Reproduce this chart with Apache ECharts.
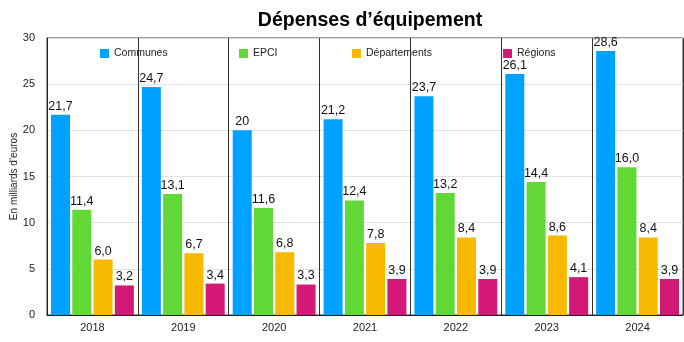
<!DOCTYPE html>
<html>
<head>
<meta charset="utf-8">
<script src="https://cdn.jsdelivr.net/npm/echarts@6/dist/echarts.min.js"></script>
<style>
  html, body { margin: 0; padding: 0; background: #fff; }
  #chart { width: 684px; height: 342px; }
</style>
</head>
<body>
<div id="chart"></div>
<script>
// Dépenses d'équipement par niveau de collectivité (milliards d'euros)
const years = ['2018', '2019', '2020', '2021', '2022', '2023', '2024'];
const communes     = ['21,7', '24,7', '20',   '21,2', '23,7', '26,1', '28,6'];
const epci         = ['11,4', '13,1', '11,6', '12,4', '13,2', '14,4', '16,0'];
const departements = ['6,0',  '6,7',  '6,8',  '7,8',  '8,4',  '8,6',  '8,4'];
const regions      = ['3,2',  '3,4',  '3,3',  '3,9',  '3,9',  '4,1',  '3,9'];
const yTicks = [0, 5, 10, 15, 20, 25, 30];

const seriesDefs = [
  { name: 'Communes',     labels: communes,     color: '#00A2FF', legendLeft: 95 },
  { name: 'EPCI',         labels: epci,         color: '#61D836', legendLeft: 234 },
  { name: 'Départements', labels: departements, color: '#F8BA00', legendLeft: 347 },
  { name: 'Régions',      labels: regions,      color: '#D41876', legendLeft: 498 }
];

const toNum = s => parseFloat(s.replace(',', '.'));
const font = 'Liberation Sans, Arial, Helvetica, sans-serif';

const chart = echarts.init(document.getElementById('chart'), null, { renderer: 'canvas' });

chart.setOption({
  animation: false,
  backgroundColor: '#fff',
  textStyle: { fontFamily: font },
  title: {
    text: 'Dépenses d’équipement',
    left: 365,
    textAlign: 'center',
    top: 6,
    textStyle: { fontFamily: font, fontSize: 19.5, fontWeight: 'bold', color: '#000' }
  },
  legend: seriesDefs.map(d => ({
    data: [d.name],
    left: d.legendLeft,
    top: 43,
    itemWidth: 9,
    itemHeight: 9,
    itemGap: 0,
    itemTextGap: 6,
    icon: 'rect',
    selectedMode: false,
    textStyle: { fontFamily: font, fontSize: 10.5, color: '#222' }
  })),
  grid: {
    left: 47, right: 1, top: 38, bottom: 27,
    outerBoundsMode: 'none',
    containLabel: false,
    show: true, borderColor: '#333', borderWidth: 1, backgroundColor: 'transparent'
  },
  xAxis: {
    type: 'category',
    data: years,
    axisLine: { show: true, lineStyle: { color: '#222', width: 1 } },
    axisTick: { show: false },
    splitLine: { show: true, lineStyle: { color: '#333', width: 1 } },
    axisLabel: { fontFamily: font, fontSize: 11, color: '#222', margin: 7 }
  },
  yAxis: {
    type: 'value',
    min: yTicks[0],
    max: yTicks[yTicks.length - 1],
    interval: 5,
    name: 'En milliards d’euros',
    nameLocation: 'middle',
    nameRotate: 90,
    nameGap: 28,
    nameMoveOverlap: false,
    nameTextStyle: { fontFamily: font, fontSize: 10, color: '#222' },
    axisLine: { show: true, lineStyle: { color: '#222', width: 1 } },
    axisTick: { show: false },
    splitLine: { show: true, lineStyle: { color: '#e2e2e2', width: 1 } },
    axisLabel: { fontFamily: font, fontSize: 11, color: '#222', margin: 12 }
  },
  series: seriesDefs.map(d => ({
    name: d.name,
    type: 'bar',
    barWidth: 19,
    barGap: '12%',
    itemStyle: { color: d.color },
    data: d.labels.map(s => toNum(s)),
    label: {
      show: true,
      position: 'top',
      distance: 2,
      fontFamily: font,
      fontSize: 12.5,
      color: '#111',
      formatter: p => d.labels[p.dataIndex]
    }
  }))
});
</script>
</body>
</html>
